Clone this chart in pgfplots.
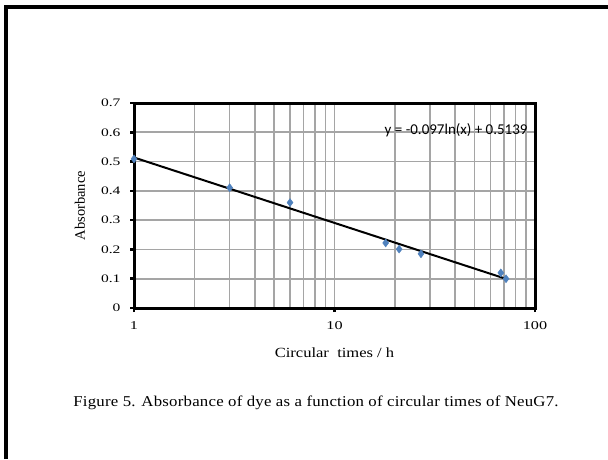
\documentclass[border=0pt]{standalone}
\usepackage{fontspec}
\setmainfont{Liberation Serif}
\newfontfamily\tickfont{Liberation Serif}[FakeStretch=1.35]
\newfontfamily\labfont{Liberation Serif}[FakeStretch=1.18]
\newfontfamily\capfont{Liberation Serif}[FakeStretch=1.12, LetterSpace=1.5]
\newfontfamily\eqfont{Carlito}
\usepackage{pgfplots}
\pgfplotsset{compat=1.18}
\definecolor{ptblue}{RGB}{79,129,189}
\definecolor{gridgray}{RGB}{165,165,165}
\begin{document}
\begin{tikzpicture}[x=1pt,y=1pt]
\useasboundingbox (0,0) rectangle (608,459);
\fill[white] (0,0) rectangle (608,459);
\draw[line width=3.5pt,black] (6,0) -- (6,452) -- (608,452);
\begin{axis}[
  at={(134pt,151pt)}, anchor=south west,
  scale only axis, width=401pt, height=205pt,
  xmode=log, xmin=1, xmax=100, ymin=0, ymax=0.7,
  xtick={1,10,100}, xticklabels={1,10,100},
  minor xtick={2,3,4,5,6,7,8,9,20,30,40,50,60,70,80,90},
  ytick={0,0.1,0.2,0.3,0.4,0.5,0.6,0.7},
  yticklabels={0,0.1,0.2,0.3,0.4,0.5,0.6,0.7},
  xmajorgrids, xminorgrids, ymajorgrids,
  grid style={gridgray, line width=1.6pt},
  minor grid style={gridgray, line width=1.6pt},
  axis line style={line width=3pt, black},
  tick align=outside, major tick length=4pt, minor tick length=0pt,
  tick style={black, line width=2.5pt},
  xtick pos=left, ytick pos=left,
  xticklabel style={font=\tickfont\fontsize{12}{14}\selectfont, yshift=-6pt},
  yticklabel style={font=\tickfont\fontsize{11.5}{14}\selectfont, xshift=-6pt},
  xlabel={Circular\ \ times / h},
  ylabel={Absorbance},
  xlabel style={font=\labfont\fontsize{14}{16}\selectfont, at={(axis description cs:0.5,-0.22)}, anchor=center},
  ylabel style={font=\fontsize{14.5}{16}\selectfont, at={(axis description cs:-0.135,0.5)}, anchor=center},
  clip=false,
]
\addplot[ptblue, only marks, mark=diamond*, mark size=4pt, mark options={fill=ptblue, draw=ptblue}]
  coordinates {(1,0.509) (3,0.411) (6,0.36) (18,0.222) (21,0.201) (27,0.185) (67.5,0.12) (71.7,0.10)};
\addplot[black, line width=2pt] coordinates {(1,0.5139) (72,0.0991)};
\node[anchor=east, font=\eqfont\fontsize{15}{16}\selectfont, inner sep=0pt] at (axis cs:92,0.608) {y = -0.097ln(x) + 0.5139};
\end{axis}
\node[font=\capfont\fontsize{15}{17}\selectfont] at (316,56) {Figure 5. Absorbance of dye as a function of circular times of NeuG7.};
\end{tikzpicture}
\end{document}
